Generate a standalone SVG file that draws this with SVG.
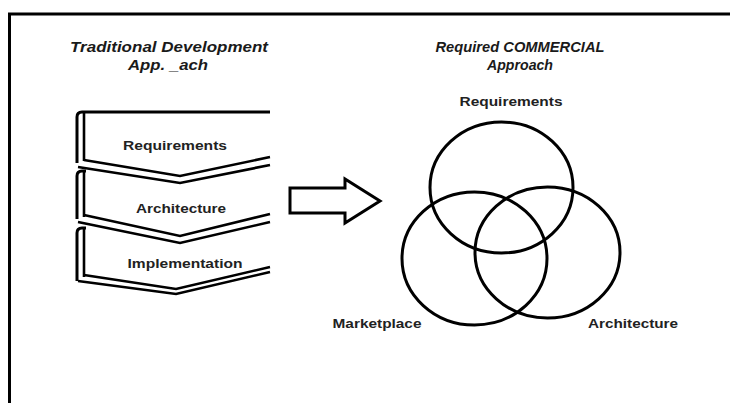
<svg xmlns="http://www.w3.org/2000/svg" width="730" height="403" viewBox="0 0 730 403">
<style>
.title{font-family:"Liberation Sans",Arial,sans-serif;font-weight:bold;font-style:italic;font-size:14px;fill:#1a1a1a}
.lbl{font-family:"Liberation Sans",Arial,sans-serif;font-weight:bold;font-size:12.5px;fill:#222}
.ln{fill:none;stroke:#000;stroke-width:3;stroke-linejoin:miter}
.ln2{fill:none;stroke:#000;stroke-width:2.6;stroke-linejoin:miter}
.ell{fill:none;stroke:#000;stroke-width:3}
</style>
<rect x="0" y="0" width="730" height="403" fill="#fff"/>
<g id="frame">
<path class="ln" d="M9.5,403 V14 H730"/>
</g>
<g id="titles">
<text class="title" x="169" y="52" text-anchor="middle" textLength="198" lengthAdjust="spacingAndGlyphs">Traditional Development</text>
<text class="title" x="168" y="70" text-anchor="middle" textLength="80" lengthAdjust="spacingAndGlyphs">App. _ach</text>
<text class="title" x="520" y="52" text-anchor="middle" textLength="169" lengthAdjust="spacingAndGlyphs">Required COMMERCIAL</text>
<text class="title" x="520" y="70" text-anchor="middle" textLength="66" lengthAdjust="spacingAndGlyphs">Approach</text>
</g>
<g id="block-implementation">
<path class="ln" d="M77,281 V233 Q77,228 82,228 H86"/>
<path class="ln2" d="M84,229 V277"/>
<path class="ln2" d="M84,275 L176,289 L270,267"/>
<path class="ln2" d="M78,281 L176,294 L270,272"/>
<text class="lbl" x="185" y="268" text-anchor="middle" textLength="115" lengthAdjust="spacingAndGlyphs">Implementation</text>
</g>
<g id="block-architecture">
<path class="ln" d="M77,219 V176 Q77,171 82,171 H86"/>
<path class="ln2" d="M84,172 V217"/>
<path class="ln2" d="M84,215 L180,236 L270,214"/>
<path class="ln2" d="M78,222 L180,243 L270,222"/>
<text class="lbl" x="181" y="213" text-anchor="middle" textLength="90" lengthAdjust="spacingAndGlyphs">Architecture</text>
</g>
<g id="block-requirements">
<path class="ln" d="M77,163 V117 Q77,112 82,112 H270"/>
<path class="ln2" d="M84,113 V161"/>
<path class="ln2" d="M84,160 L180,176 L270,157"/>
<path class="ln2" d="M78,167 L180,183 L270,165"/>
<text class="lbl" x="175" y="150" text-anchor="middle" textLength="104" lengthAdjust="spacingAndGlyphs">Requirements</text>
</g>
<g id="connectors">
<polygon class="ln" points="290,188 345,188 345,179 380,201 345,223 345,213 290,213"/>
</g>
<g id="circle-requirements">
<ellipse class="ell" cx="501.5" cy="187.5" rx="71.5" ry="65.5"/>
<text class="lbl" x="511" y="106" text-anchor="middle" textLength="103" lengthAdjust="spacingAndGlyphs">Requirements</text>
</g>
<g id="circle-marketplace">
<ellipse class="ell" cx="474.5" cy="258.5" rx="72.5" ry="66.5"/>
<text class="lbl" x="377" y="328" text-anchor="middle" textLength="89" lengthAdjust="spacingAndGlyphs">Marketplace</text>
</g>
<g id="circle-architecture">
<ellipse class="ell" cx="547.5" cy="252.5" rx="72.5" ry="65.5"/>
<text class="lbl" x="633" y="328" text-anchor="middle" textLength="90" lengthAdjust="spacingAndGlyphs">Architecture</text>
</g>
</svg>
